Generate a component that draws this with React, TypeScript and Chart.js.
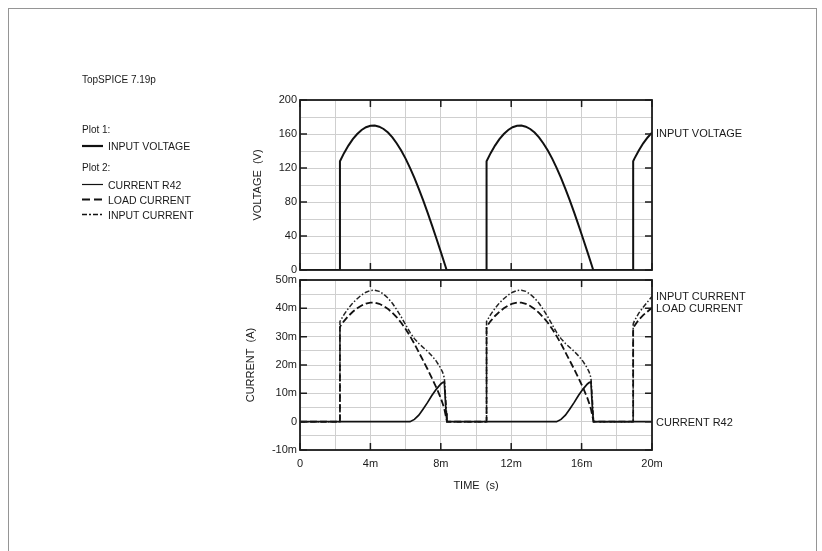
import React, { useEffect, useRef } from 'react';
import { Chart, registerables } from 'chart.js';

Chart.register(...registerables);

const FONT = '"Liberation Sans", Arial, Helvetica, sans-serif';

// ---- Plot 1: input voltage (time in ms, volts) ----
const voltTime = [
  0, 2.27, 2.27, 2.5, 2.75, 3.0, 3.25, 3.5, 3.75, 4.0, 4.25, 4.5, 4.75, 5.0, 5.25, 5.5, 5.75, 6.0, 6.25, 6.5, 6.75, 7.0, 7.25, 7.5, 7.75, 8.0, 8.25, 8.33,
  10.6, 10.6, 10.83, 11.08, 11.33, 11.58, 11.83, 12.08, 12.33, 12.58, 12.83, 13.08, 13.33, 13.58, 13.83, 14.08, 14.33, 14.58, 14.83, 15.08, 15.33, 15.58, 15.83, 16.08, 16.33, 16.58, 16.66,
  18.93, 18.93, 19.0, 19.25, 19.5, 19.75, 20.0,
];
const inputVoltage = [
  0, 0, 128, 137.5, 146.4, 153.9, 160, 164.7, 168, 169.7, 169.9, 168.6, 165.9, 161.7, 156, 148.9, 140.6, 131, 120.2, 108.4, 95.5, 82, 67.5, 52.5, 37, 21.3, 5.3, 0,
  0, 128, 137.5, 146.4, 153.9, 160, 164.7, 168, 169.7, 169.9, 168.6, 165.9, 161.7, 156, 148.9, 140.6, 131, 120.2, 108.4, 95.5, 82, 67.5, 52.5, 37, 21.3, 5.3, 0,
  0, 128, 131, 140.6, 149, 155.9, 161.7,
];

// ---- Plot 2: currents (time in ms, mA) ----
const currTime = [
  0, 2.27, 2.27, 2.5, 2.75, 3.0, 3.25, 3.5, 3.75, 4.0, 4.25, 4.5, 4.75, 5.0, 5.25, 5.5, 5.75, 6.0, 6.25, 6.5, 6.75, 7.0, 7.25, 7.5, 7.75, 8.0, 8.1, 8.2, 8.3, 8.35,
  10.6, 10.6, 10.83, 11.08, 11.33, 11.58, 11.83, 12.08, 12.33, 12.58, 12.83, 13.08, 13.33, 13.58, 13.83, 14.08, 14.33, 14.58, 14.83, 15.08, 15.33, 15.58, 15.83, 16.08, 16.33, 16.43, 16.53, 16.63, 16.68,
  18.93, 18.93, 19.0, 19.25, 19.5, 19.75, 20.0,
];
const currentR42 = [
  0, 0, 0, 0, 0, 0, 0, 0, 0, 0, 0, 0, 0, 0, 0, 0, 0, 0, 0, 0.8, 2.3, 4.5, 6.8, 9.3, 11.5, 13.3, 13.8, 14, 3, 0,
  0, 0, 0, 0, 0, 0, 0, 0, 0, 0, 0, 0, 0, 0, 0, 0, 0, 0, 0.8, 2.3, 4.5, 6.8, 9.3, 11.5, 13.3, 13.8, 14, 3, 0,
  0, 0, 0, 0, 0, 0, 0,
];
const loadCurrent = [
  0, 0, 33.5, 35.5, 37.3, 38.8, 40, 41, 41.7, 42, 42, 41.6, 40.8, 39.8, 38.4, 36.8, 34.9, 32.7, 30.2, 27.5, 24.5, 21.5, 18.5, 15.3, 12, 8.3, 6.5, 4.5, 1.5, 0,
  0, 33.5, 35.5, 37.3, 38.8, 40, 41, 41.7, 42, 42, 41.6, 40.8, 39.8, 38.4, 36.8, 34.9, 32.7, 30.2, 27.5, 24.5, 21.5, 18.5, 15.3, 12, 8.3, 6.5, 4.5, 1.5, 0,
  0, 32.8, 33.8, 36, 37.6, 38.9, 40.2,
];
const inputCurrent = [
  0, 0, 35.4, 37.8, 40, 41.9, 43.4, 44.7, 45.7, 46.3, 46.4, 46, 45, 43.6, 41.8, 39.5, 37, 34.2, 31.5, 29.3, 27.6, 26.2, 24.8, 23.2, 21.3, 18.8, 17.5, 15.5, 6, 0,
  0, 35.4, 37.8, 40, 41.9, 43.4, 44.7, 45.7, 46.3, 46.4, 46, 45, 43.6, 41.8, 39.5, 37, 34.2, 31.5, 29.3, 27.6, 26.2, 24.8, 23.2, 21.3, 18.8, 17.5, 15.5, 6, 0,
  0, 34.4, 35.6, 38.3, 40.4, 42.3, 44.2,
];

// ---- tick labels ----
const timeTickValues = [0, 4, 8, 12, 16, 20];
const timeTickLabels = ['0', '4m', '8m', '12m', '16m', '20m'];
const voltTickValues = [0, 40, 80, 120, 160, 200];
const voltTickLabels = ['0', '40', '80', '120', '160', '200'];
const currTickValues = [-10, 0, 10, 20, 30, 40, 50];
const currTickLabels = ['-10m', '0', '10m', '20m', '30m', '40m', '50m'];

const labelFor = (values: number[], labels: string[], v: number) => {
  const i = values.findIndex((x) => Math.abs(x - v) < 1e-6);
  return i >= 0 ? labels[i] : '';
};

const toPoints = (xs: number[], ys: number[]) => xs.map((x, i) => ({ x, y: ys[i] }));

const framePlugin = {
  id: 'frame',
  afterDatasetsDraw(chart: any, _args: any, opts: any) {
    const { ctx, chartArea: a } = chart;
    const xs = chart.scales.x;
    const ys = chart.scales.y;
    ctx.save();
    ctx.strokeStyle = '#1c1c1c';
    ctx.lineWidth = 1.5;
    ctx.beginPath();
    for (const v of opts.xMajor) {
      const px = xs.getPixelForValue(v);
      ctx.moveTo(px, a.top);
      ctx.lineTo(px, a.top + 7);
      ctx.moveTo(px, a.bottom);
      ctx.lineTo(px, a.bottom - 7);
    }
    for (const v of opts.yMajor) {
      const py = ys.getPixelForValue(v);
      ctx.moveTo(a.left, py);
      ctx.lineTo(a.left + 7, py);
      ctx.moveTo(a.right, py);
      ctx.lineTo(a.right - 7, py);
    }
    ctx.stroke();
    ctx.lineWidth = 1.8;
    ctx.strokeRect(a.left, a.top, a.right - a.left, a.bottom - a.top);
    ctx.restore();
  },
};

const GRID = '#cfcfcf';
const INK = '#1a1a1a';
const tickFont = { family: FONT, size: 11 };

function App() {
  const topRef = useRef<HTMLCanvasElement | null>(null);
  const botRef = useRef<HTMLCanvasElement | null>(null);

  useEffect(() => {
    const top = new Chart(topRef.current as HTMLCanvasElement, {
      type: 'line',
      data: {
        datasets: [
          {
            label: 'INPUT VOLTAGE',
            data: toPoints(voltTime, inputVoltage),
            borderColor: '#111',
            borderWidth: 2,
            pointRadius: 0,
            tension: 0,
            fill: false,
          },
        ],
      },
      options: {
        responsive: false,
        animation: false,
        events: [],
        layout: { padding: { left: 251, right: 170, top: 100, bottom: 281 } },
        plugins: {
          legend: { display: false },
          tooltip: { enabled: false },
          frame: { xMajor: timeTickValues, yMajor: voltTickValues },
        } as any,
        scales: {
          x: {
            type: 'linear',
            min: 0,
            max: 20,
            ticks: { display: false, stepSize: 2, autoSkip: false },
            grid: { color: GRID, lineWidth: 1, drawTicks: false },
            border: { display: false },
            afterFit: (s: any) => {
              s.height = 0;
            },
          },
          y: {
            type: 'linear',
            min: 0,
            max: 200,
            ticks: {
              stepSize: 20,
              autoSkip: false,
              padding: 3,
              color: INK,
              font: tickFont,
              callback: (v: any) => labelFor(voltTickValues, voltTickLabels, Number(v)),
            },
            grid: { color: GRID, lineWidth: 1, drawTicks: false },
            border: { display: false },
            title: { display: true, text: 'VOLTAGE  (V)', padding: 0, color: INK, font: { family: FONT, size: 11 } },
            afterFit: (s: any) => {
              s.width = 49;
            },
          },
        } as any,
      },
      plugins: [framePlugin as any],
    });

    const bot = new Chart(botRef.current as HTMLCanvasElement, {
      type: 'line',
      data: {
        datasets: [
          {
            label: 'CURRENT R42',
            data: toPoints(currTime, currentR42),
            borderColor: '#111',
            borderWidth: 1.7,
            pointRadius: 0,
            tension: 0,
            fill: false,
          },
          {
            label: 'LOAD CURRENT',
            data: toPoints(currTime, loadCurrent),
            borderColor: '#111',
            borderWidth: 1.8,
            borderDash: [7, 3],
            pointRadius: 0,
            tension: 0,
            fill: false,
          },
          {
            label: 'INPUT CURRENT',
            data: toPoints(currTime, inputCurrent),
            borderColor: '#222',
            borderWidth: 1.5,
            borderDash: [5, 2, 1.5, 2],
            pointRadius: 0,
            tension: 0,
            fill: false,
          },
        ],
      },
      options: {
        responsive: false,
        animation: false,
        events: [],
        layout: { padding: { left: 244, right: 170, top: 280, bottom: 58 } },
        plugins: {
          legend: { display: false },
          tooltip: { enabled: false },
          frame: { xMajor: timeTickValues, yMajor: currTickValues },
        } as any,
        scales: {
          x: {
            type: 'linear',
            min: 0,
            max: 20,
            ticks: {
              stepSize: 2,
              autoSkip: false,
              maxRotation: 0,
              padding: 7,
              color: INK,
              font: tickFont,
              callback: (v: any) => labelFor(timeTickValues, timeTickLabels, Number(v)),
            },
            grid: { color: GRID, lineWidth: 1, drawTicks: false },
            border: { display: false },
            title: { display: true, text: 'TIME  (s)', padding: 0, color: INK, font: { family: FONT, size: 11 } },
            afterFit: (s: any) => {
              s.height = 43;
            },
          },
          y: {
            type: 'linear',
            min: -10,
            max: 50,
            ticks: {
              stepSize: 5,
              autoSkip: false,
              padding: 3,
              color: INK,
              font: tickFont,
              callback: (v: any) => labelFor(currTickValues, currTickLabels, Number(v)),
            },
            grid: { color: GRID, lineWidth: 1, drawTicks: false },
            border: { display: false },
            title: { display: true, text: 'CURRENT  (A)', padding: 0, color: INK, font: { family: FONT, size: 11 } },
            afterFit: (s: any) => {
              s.width = 56;
            },
          },
        } as any,
      },
      plugins: [framePlugin as any],
    });

    return () => {
      top.destroy();
      bot.destroy();
    };
  }, []);

  const txt = (left: number, cy: number, size: number, text: string) => (
    <div
      style={{
        position: 'absolute',
        left,
        top: cy - 7,
        fontSize: size,
        lineHeight: '14px',
        whiteSpace: 'nowrap',
        color: INK,
      }}
    >
      {text}
    </div>
  );

  return (
    <div
      style={{
        position: 'fixed',
        left: 0,
        top: 0,
        width: 822,
        height: 551,
        overflow: 'hidden',
        background: '#fff',
        fontFamily: FONT,
      }}
    >
      <div
        style={{
          position: 'absolute',
          left: 8,
          top: 8,
          width: 807,
          height: 600,
          border: '1.5px solid #959595',
        }}
      />
      <canvas ref={topRef} width={822} height={551} style={{ position: 'absolute', left: 0, top: 0 }} />
      <canvas ref={botRef} width={822} height={551} style={{ position: 'absolute', left: 0, top: 0 }} />
      <svg width={822} height={551} style={{ position: 'absolute', left: 0, top: 0 }}>
        <line x1={82} x2={103} y1={146} y2={146} stroke="#111" strokeWidth={2.2} />
        <line x1={82} x2={103} y1={184.5} y2={184.5} stroke="#111" strokeWidth={1.2} />
        <line x1={82} x2={103} y1={199.5} y2={199.5} stroke="#111" strokeWidth={2} strokeDasharray="8 4" />
        <line x1={82} x2={103} y1={214.5} y2={214.5} stroke="#111" strokeWidth={1.5} strokeDasharray="5 2 2 2" />
      </svg>
      {txt(82, 80, 10, 'TopSPICE 7.19p')}
      {txt(82, 130, 10, 'Plot 1:')}
      {txt(108, 146, 10.5, 'INPUT VOLTAGE')}
      {txt(82, 168, 10, 'Plot 2:')}
      {txt(108, 184.5, 10.5, 'CURRENT R42')}
      {txt(108, 199.5, 10.5, 'LOAD CURRENT')}
      {txt(108, 214.5, 10.5, 'INPUT CURRENT')}
      {txt(656, 133, 11, 'INPUT VOLTAGE')}
      {txt(656, 296, 11, 'INPUT CURRENT')}
      {txt(656, 308, 11, 'LOAD CURRENT')}
      {txt(656, 422, 11, 'CURRENT R42')}
    </div>
  );
}

export default App;
